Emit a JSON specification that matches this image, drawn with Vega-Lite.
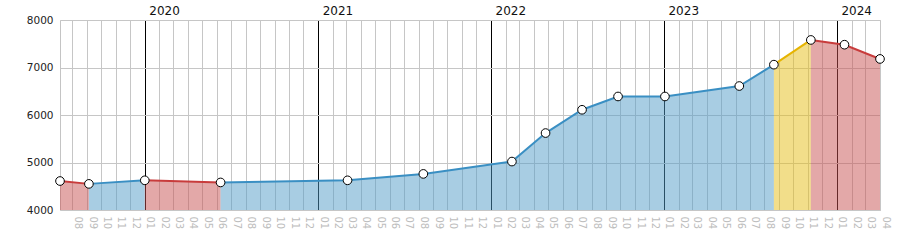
{
  "$schema": "https://vega.github.io/schema/vega-lite/v6.json",
  "autosize": "none",
  "width": 820,
  "height": 190,
  "padding": {"left": 60, "top": 20, "right": 20, "bottom": 40},
  "background": "white",
  "config": {
    "view": {"stroke": "#c4c4c4", "strokeWidth": 1},
    "font": "DejaVu Sans",
    "axis": {"labelFont": "DejaVu Sans"}
  },
  "datasets": {
    "segs": [
      {"date": "2019-07-06", "value": 4610, "trend": "down", "seg": "s1"},
      {"date": "2019-09-05", "value": 4550, "trend": "down", "seg": "s1"},
      {"date": "2019-09-05", "value": 4550, "trend": "up", "seg": "s2"},
      {"date": "2020-01-01", "value": 4625, "trend": "up", "seg": "s2"},
      {"date": "2020-01-01", "value": 4625, "trend": "down", "seg": "s3"},
      {"date": "2020-06-09", "value": 4580, "trend": "down", "seg": "s3"},
      {"date": "2020-06-09", "value": 4580, "trend": "up", "seg": "s4"},
      {"date": "2021-03-04", "value": 4625, "trend": "up", "seg": "s4"},
      {"date": "2021-08-11", "value": 4760, "trend": "up", "seg": "s4"},
      {"date": "2022-02-14", "value": 5020, "trend": "up", "seg": "s4"},
      {"date": "2022-04-26", "value": 5620, "trend": "up", "seg": "s4"},
      {"date": "2022-07-12", "value": 6110, "trend": "up", "seg": "s4"},
      {"date": "2022-09-26", "value": 6390, "trend": "up", "seg": "s4"},
      {"date": "2023-01-03", "value": 6390, "trend": "up", "seg": "s4"},
      {"date": "2023-06-09", "value": 6610, "trend": "up", "seg": "s4"},
      {"date": "2023-08-21", "value": 7060, "trend": "up", "seg": "s4"},
      {"date": "2023-08-21", "value": 7060, "trend": "hi", "seg": "s5"},
      {"date": "2023-11-07", "value": 7580, "trend": "hi", "seg": "s5"},
      {"date": "2023-11-07", "value": 7580, "trend": "down", "seg": "s6"},
      {"date": "2024-01-17", "value": 7480, "trend": "down", "seg": "s6"},
      {"date": "2024-04-01", "value": 7180, "trend": "down", "seg": "s6"}
    ],
    "pts": [
      {"date": "2019-07-06", "value": 4610},
      {"date": "2019-09-05", "value": 4550},
      {"date": "2020-01-01", "value": 4625},
      {"date": "2020-06-09", "value": 4580},
      {"date": "2021-03-04", "value": 4625},
      {"date": "2021-08-11", "value": 4760},
      {"date": "2022-02-14", "value": 5020},
      {"date": "2022-04-26", "value": 5620},
      {"date": "2022-07-12", "value": 6110},
      {"date": "2022-09-26", "value": 6390},
      {"date": "2023-01-03", "value": 6390},
      {"date": "2023-06-09", "value": 6610},
      {"date": "2023-08-21", "value": 7060},
      {"date": "2023-11-07", "value": 7580},
      {"date": "2024-01-17", "value": 7480},
      {"date": "2024-04-01", "value": 7180}
    ]
  },
  "layer": [
    {
      "data": {"name": "segs"},
      "mark": {"type": "area", "opacity": 0.5},
      "encoding": {
        "x": {
          "field": "date", "type": "temporal",
          "scale": {"type": "utc"},
          "axis": {
            "orient": "bottom", "title": null, "labelExpr": "utcFormat(datum.value, '%m')",
            "tickCount": {"interval": "month", "step": 1},
            "labelAngle": 90, "labelColor": "#bdbdbd", "labelFontSize": 10,
            "labelOffset": 5, "labelPadding": 6, "labelFlush": false, "labelOverlap": false,
            "ticks": false, "tickSize": 0, "domain": false,
            "grid": true, "gridColor": "#c6c6c6", "gridWidth": 1, "gridOpacity": 1
          }
        },
        "y": {
          "field": "value", "type": "quantitative", "stack": null,
          "scale": {"domain": [4000, 8000], "nice": false},
          "axis": {
            "title": null, "values": [4000, 5000, 6000, 7000, 8000], "format": "d",
            "labelColor": "#222", "labelFontSize": 10.5, "labelPadding": 7,
            "ticks": false, "tickSize": 0, "domain": false,
            "grid": true, "gridColor": "#c6c6c6", "gridOpacity": 1
          }
        },
        "color": {
          "field": "trend", "type": "nominal",
          "scale": {"domain": ["down", "up", "hi"], "range": ["#c75151", "#519bc7", "#e5bd15"]},
          "legend": null
        },
        "detail": {"field": "seg"}
      }
    },
    {
      "data": {"name": "segs"},
      "mark": {"type": "line", "strokeWidth": 2},
      "encoding": {
        "x": {
          "field": "date", "type": "temporal",
          "scale": {"type": "utc"},
          "axis": {
            "orient": "top", "title": null, "labelExpr": "utcFormat(datum.value, '%Y')",
            "tickCount": {"interval": "year", "step": 1},
            "labelAngle": 0, "labelAlign": "left", "labelOffset": 4, "labelPadding": 3,
            "labelColor": "#111", "labelFontSize": 12, "labelFontWeight": "normal", "labelFlush": false,
            "ticks": false, "tickSize": 0, "domain": false,
            "grid": true, "gridColor": "#000000", "gridWidth": 1, "gridOpacity": 1
          }
        },
        "y": {"field": "value", "type": "quantitative", "stack": null, "axis": null},
        "color": {
          "field": "trend", "type": "nominal",
          "scale": {"domain": ["down", "up", "hi"], "range": ["#c83c3c", "#3a8fc3", "#e6b400"]},
          "legend": null
        },
        "detail": {"field": "seg"}
      }
    },
    {
      "data": {"name": "pts"},
      "mark": {"type": "point", "shape": "circle", "filled": true, "fill": "white", "stroke": "black", "strokeWidth": 1, "size": 75, "opacity": 1},
      "encoding": {
        "x": {"field": "date", "type": "temporal", "scale": {"type": "utc"}, "axis": null},
        "y": {"field": "value", "type": "quantitative", "axis": null}
      }
    }
  ],
  "resolve": {"axis": {"x": "independent", "y": "independent"}, "scale": {"color": "independent"}}
}
